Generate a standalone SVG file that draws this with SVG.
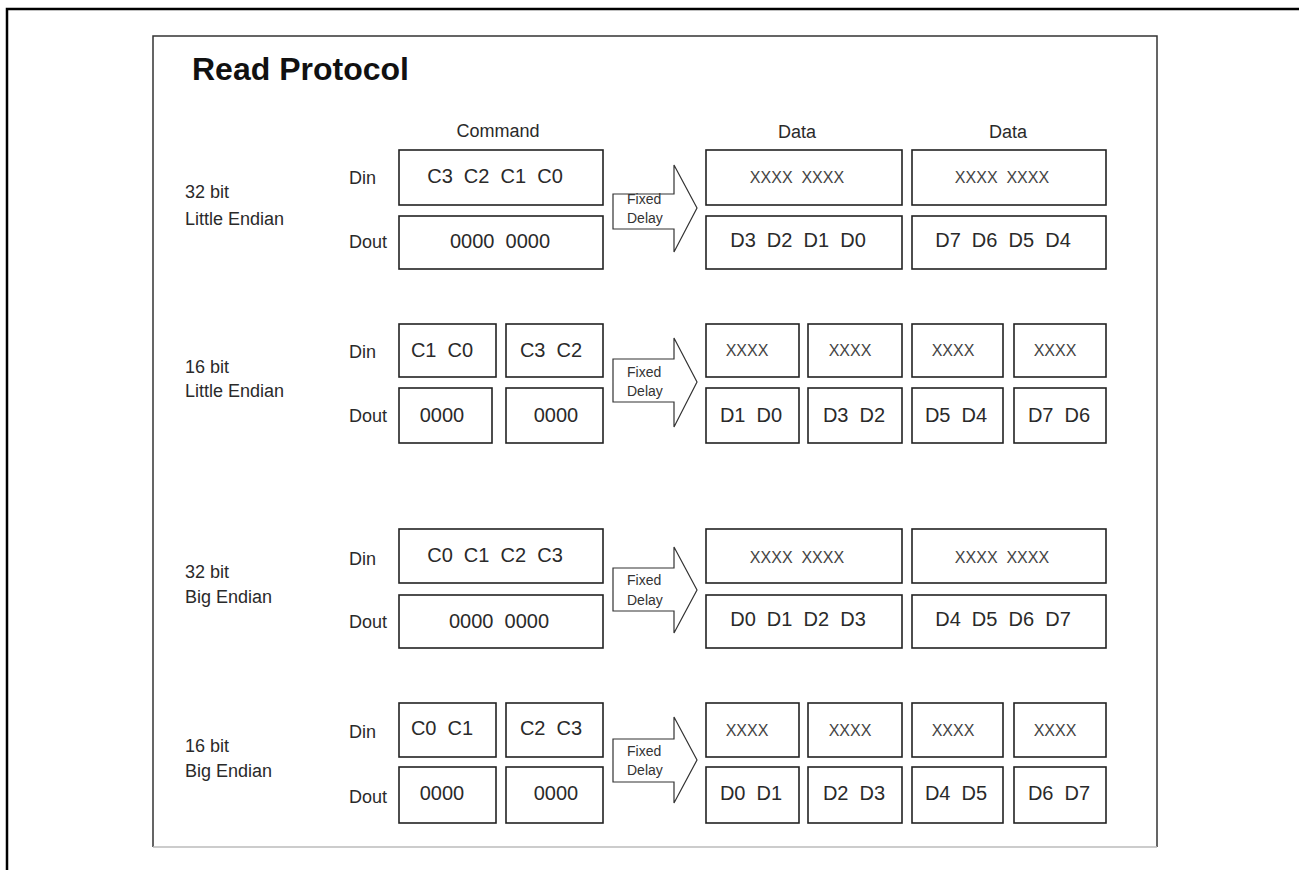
<svg xmlns="http://www.w3.org/2000/svg" width="1299" height="870" viewBox="0 0 1299 870">
<style>
.bx{fill:#fff;stroke:#222;stroke-width:1.6}
.t{font-family:"Liberation Sans",Arial,sans-serif;font-size:20px;fill:#2a2a2a}
.c{text-anchor:middle}
.lb{font-family:"Liberation Sans",Arial,sans-serif;font-size:18px;fill:#2a2a2a}
.x{font-family:"Liberation Sans",Arial,sans-serif;font-size:16px;fill:#444;text-anchor:middle}
.ar{fill:#fff;stroke:#333;stroke-width:1.2}
.fd{font-family:"Liberation Sans",Arial,sans-serif;font-size:14px;fill:#333}
</style>
<rect width="1299" height="870" fill="#fff"/>
<path d="M7,870 V9 H1299" fill="none" stroke="#000" stroke-width="2.5"/>
<path d="M153,847 V36 H1157 V847" fill="none" stroke="#333" stroke-width="1.5"/>
<path d="M153,847 H1157" fill="none" stroke="#bbb" stroke-width="1.5"/>
<text x="192" y="80" font-family="Liberation Sans,Arial,sans-serif" font-size="32" font-weight="bold" fill="#111">Read Protocol</text>
<text class="lb c" x="498" y="137">Command</text>
<text class="lb c" x="797" y="138">Data</text>
<text class="lb c" x="1008" y="138">Data</text>

<g id="row1">
<text class="lb" x="185" y="198">32 bit</text>
<text class="lb" x="185" y="225">Little Endian</text>
<text class="lb" x="349" y="184">Din</text>
<text class="lb" x="349" y="248">Dout</text>
<g id="r1-din"><rect class="bx" x="399" y="150" width="204" height="55"/><text class="t c" x="495" y="183" xml:space="preserve">C3  C2  C1  C0</text></g>
<g id="r1-dout"><rect class="bx" x="399" y="216" width="204" height="53"/><text class="t c" x="500" y="248" xml:space="preserve">0000  0000</text></g>
<g id="r1-d1"><rect class="bx" x="706" y="150" width="196" height="55"/><text class="x" x="797" y="183" xml:space="preserve">XXXX  XXXX</text></g>
<g id="r1-d2"><rect class="bx" x="912" y="150" width="194" height="55"/><text class="x" x="1002" y="183" xml:space="preserve">XXXX  XXXX</text></g>
<g id="r1-d3"><rect class="bx" x="706" y="216" width="196" height="53"/><text class="t c" x="798" y="247" xml:space="preserve">D3  D2  D1  D0</text></g>
<g id="r1-d4"><rect class="bx" x="912" y="216" width="194" height="53"/><text class="t c" x="1003" y="247" xml:space="preserve">D7  D6  D5  D4</text></g>
</g>

<g id="row2">
<text class="lb" x="185" y="373">16 bit</text>
<text class="lb" x="185" y="397">Little Endian</text>
<text class="lb" x="349" y="358">Din</text>
<text class="lb" x="349" y="422">Dout</text>
<g id="r2-din1"><rect class="bx" x="399" y="324" width="97" height="53"/><text class="t c" x="442" y="357" xml:space="preserve">C1  C0</text></g>
<g id="r2-din2"><rect class="bx" x="506" y="324" width="97" height="53"/><text class="t c" x="551" y="357" xml:space="preserve">C3  C2</text></g>
<g id="r2-dout1"><rect class="bx" x="399" y="388" width="93" height="55"/><text class="t c" x="442" y="422">0000</text></g>
<g id="r2-dout2"><rect class="bx" x="506" y="388" width="97" height="55"/><text class="t c" x="556" y="422">0000</text></g>
<g id="r2-x1"><rect class="bx" x="706" y="324" width="93" height="53"/><text class="x" x="747" y="356">XXXX</text></g>
<g id="r2-x2"><rect class="bx" x="808" y="324" width="94" height="53"/><text class="x" x="850" y="356">XXXX</text></g>
<g id="r2-x3"><rect class="bx" x="912" y="324" width="91" height="53"/><text class="x" x="953" y="356">XXXX</text></g>
<g id="r2-x4"><rect class="bx" x="1014" y="324" width="92" height="53"/><text class="x" x="1055" y="356">XXXX</text></g>
<g id="r2-d1"><rect class="bx" x="706" y="388" width="93" height="55"/><text class="t c" x="751" y="422" xml:space="preserve">D1  D0</text></g>
<g id="r2-d2"><rect class="bx" x="808" y="388" width="94" height="55"/><text class="t c" x="854" y="422" xml:space="preserve">D3  D2</text></g>
<g id="r2-d3"><rect class="bx" x="912" y="388" width="91" height="55"/><text class="t c" x="956" y="422" xml:space="preserve">D5  D4</text></g>
<g id="r2-d4"><rect class="bx" x="1014" y="388" width="92" height="55"/><text class="t c" x="1059" y="422" xml:space="preserve">D7  D6</text></g>
</g>

<g id="row3">
<text class="lb" x="185" y="578">32 bit</text>
<text class="lb" x="185" y="603">Big Endian</text>
<text class="lb" x="349" y="565">Din</text>
<text class="lb" x="349" y="628">Dout</text>
<g id="r3-din"><rect class="bx" x="399" y="529" width="204" height="54"/><text class="t c" x="495" y="562" xml:space="preserve">C0  C1  C2  C3</text></g>
<g id="r3-dout"><rect class="bx" x="399" y="595" width="204" height="53"/><text class="t c" x="499" y="628" xml:space="preserve">0000  0000</text></g>
<g id="r3-d1"><rect class="bx" x="706" y="529" width="196" height="54"/><text class="x" x="797" y="563" xml:space="preserve">XXXX  XXXX</text></g>
<g id="r3-d2"><rect class="bx" x="912" y="529" width="194" height="54"/><text class="x" x="1002" y="563" xml:space="preserve">XXXX  XXXX</text></g>
<g id="r3-d3"><rect class="bx" x="706" y="595" width="196" height="53"/><text class="t c" x="798" y="626" xml:space="preserve">D0  D1  D2  D3</text></g>
<g id="r3-d4"><rect class="bx" x="912" y="595" width="194" height="53"/><text class="t c" x="1003" y="626" xml:space="preserve">D4  D5  D6  D7</text></g>
</g>

<g id="row4">
<text class="lb" x="185" y="752">16 bit</text>
<text class="lb" x="185" y="777">Big Endian</text>
<text class="lb" x="349" y="738">Din</text>
<text class="lb" x="349" y="803">Dout</text>
<g id="r4-din1"><rect class="bx" x="399" y="703" width="97" height="54"/><text class="t c" x="442" y="735" xml:space="preserve">C0  C1</text></g>
<g id="r4-din2"><rect class="bx" x="506" y="703" width="97" height="54"/><text class="t c" x="551" y="735" xml:space="preserve">C2  C3</text></g>
<g id="r4-dout1"><rect class="bx" x="399" y="767" width="97" height="56"/><text class="t c" x="442" y="800">0000</text></g>
<g id="r4-dout2"><rect class="bx" x="506" y="767" width="97" height="56"/><text class="t c" x="556" y="800">0000</text></g>
<g id="r4-x1"><rect class="bx" x="706" y="703" width="93" height="54"/><text class="x" x="747" y="736">XXXX</text></g>
<g id="r4-x2"><rect class="bx" x="808" y="703" width="94" height="54"/><text class="x" x="850" y="736">XXXX</text></g>
<g id="r4-x3"><rect class="bx" x="912" y="703" width="91" height="54"/><text class="x" x="953" y="736">XXXX</text></g>
<g id="r4-x4"><rect class="bx" x="1014" y="703" width="92" height="54"/><text class="x" x="1055" y="736">XXXX</text></g>
<g id="r4-d1"><rect class="bx" x="706" y="767" width="93" height="56"/><text class="t c" x="751" y="800" xml:space="preserve">D0  D1</text></g>
<g id="r4-d2"><rect class="bx" x="808" y="767" width="94" height="56"/><text class="t c" x="854" y="800" xml:space="preserve">D2  D3</text></g>
<g id="r4-d3"><rect class="bx" x="912" y="767" width="91" height="56"/><text class="t c" x="956" y="800" xml:space="preserve">D4  D5</text></g>
<g id="r4-d4"><rect class="bx" x="1014" y="767" width="92" height="56"/><text class="t c" x="1059" y="800" xml:space="preserve">D6  D7</text></g>
</g>

<g id="connectors">
<polygon class="ar" points="613,194 674,194 674,165 697,208 674,252 674,229 613,229"/>
<text class="fd" x="627" y="204">Fixed</text><text class="fd" x="627" y="223">Delay</text>
<polygon class="ar" points="613,359 674,359 674,338 697,382 674,427 674,402 613,402"/>
<text class="fd" x="627" y="377">Fixed</text><text class="fd" x="627" y="396">Delay</text>
<polygon class="ar" points="613,568 674,568 674,547 697,590 674,633 674,611 613,611"/>
<text class="fd" x="627" y="585">Fixed</text><text class="fd" x="627" y="605">Delay</text>
<polygon class="ar" points="613,739 674,739 674,717 697,760 674,803 674,782 613,782"/>
<text class="fd" x="627" y="756">Fixed</text><text class="fd" x="627" y="775">Delay</text>
</g>
</svg>
